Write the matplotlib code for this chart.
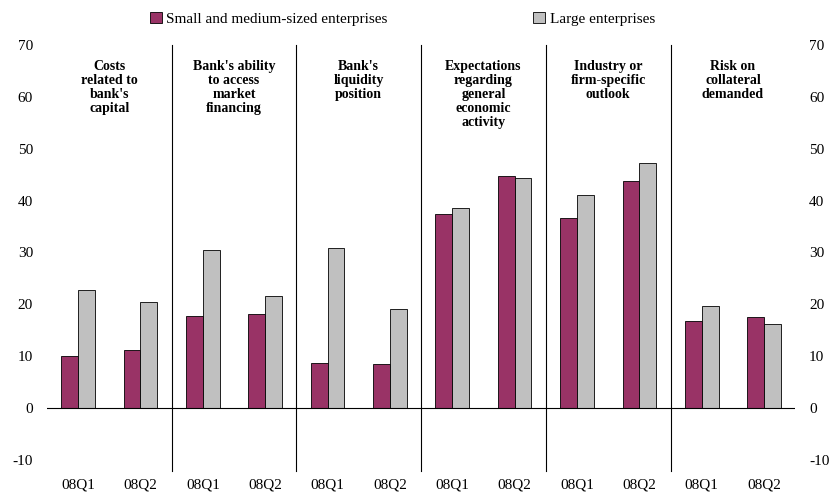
import matplotlib.pyplot as plt
import numpy as np

plt.rcParams['font.family'] = ['Liberation Serif', 'DejaVu Serif']
plt.rcParams['axes.unicode_minus'] = False

groups = ["Costs\nrelated to\nbank's\ncapital",
          "Bank's ability\nto access\nmarket\nfinancing",
          "Bank's\nliquidity\nposition",
          "Expectations\nregarding\ngeneral\neconomic\nactivity",
          "Industry or\nfirm-specific\noutlook",
          "Risk on\ncollateral\ndemanded"]
quarters = ["08Q1", "08Q2"]
sme = [10.0, 11.2, 17.8, 18.2, 8.7, 8.5, 37.5, 44.8, 36.6, 43.7, 16.8, 17.6]
large = [22.7, 20.5, 30.5, 21.7, 30.8, 19.2, 38.6, 44.4, 41.1, 47.3, 19.7, 16.3]

fig = plt.figure(figsize=(8.38, 4.98), dpi=100)
ax = fig.add_axes([0.056, 0.076, 0.893, 0.834])
x = np.arange(len(sme))
w = 0.27
ax.bar(x - w / 2, sme, w, color='#993366', edgecolor='black', linewidth=0.6,
       label='Small and medium-sized enterprises')
ax.bar(x + w / 2, large, w, color='#C0C0C0', edgecolor='black', linewidth=0.6,
       label='Large enterprises')
ax.set_xlim(-0.5, 11.5)
ax.set_ylim(-10, 70)
ax.set_yticks(range(-10, 71, 10))
ax.axhline(0, color='black', linewidth=0.8)
for s in np.arange(1.5, 11, 2):
    ax.plot([s, s], [-12, 70], color='black', linewidth=0.8, clip_on=False)
for i, g in enumerate(groups):
    ax.text(2 * i + 0.5, 67, g, ha='center', va='top', fontsize=10, fontweight='bold',
            linespacing=1.1)
ax.set_xticks([])
for i in x:
    ax.text(i, -13.5, quarters[i % 2], ha='center', va='top', fontsize=11)
ax.tick_params(axis='y', labelsize=11, right=True, labelright=True, direction='in', length=0, pad=10)
for sp in ax.spines.values():
    sp.set_visible(False)
ax.legend(loc='lower left', bbox_to_anchor=(0.123, 1.02), ncol=2, frameon=False,
          fontsize=11, handlelength=0.8, handleheight=0.8, columnspacing=9.5,
          handletextpad=0.3, borderaxespad=0.3)
fig.savefig('out.png')
